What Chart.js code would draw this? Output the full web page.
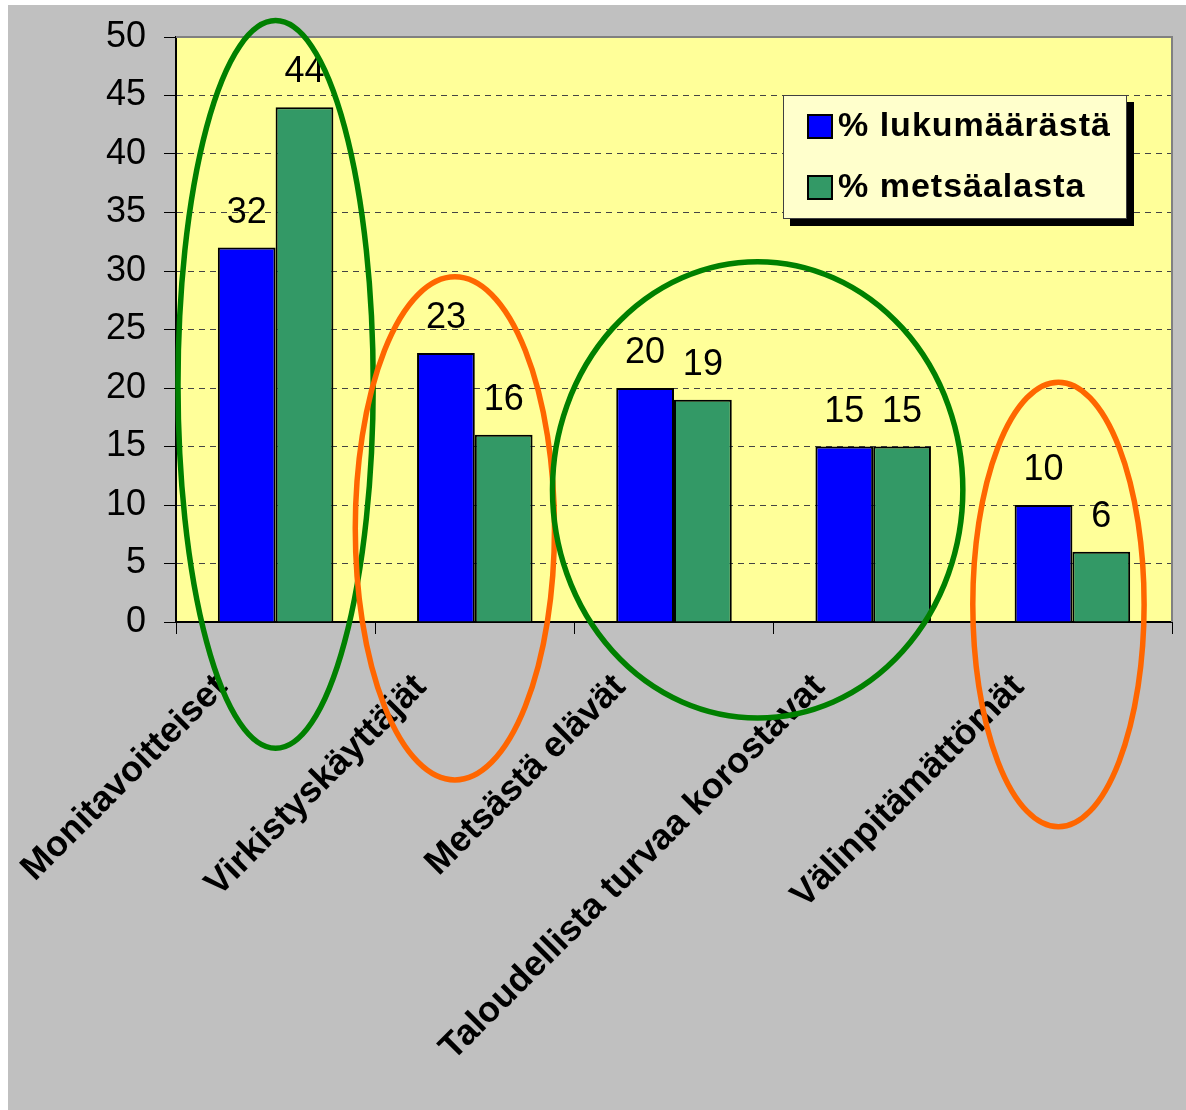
<!DOCTYPE html>
<html>
<head>
<meta charset="utf-8">
<script src="https://cdn.jsdelivr.net/npm/chart.js@4/dist/chart.umd.min.js"></script>
<style>
  html, body { margin: 0; padding: 0; background: #fff; }
  #wrap { position: absolute; left: 8px; top: 5px; width: 1178px; height: 1105px; background: #c0c0c0; }
</style>
</head>
<body>
<div id="wrap"><canvas id="chart"></canvas></div>
<script>
// Data
const categories = ['Monitavoitteiset', 'Virkistyskäyttäjät', 'Metsästä elävät', 'Taloudellista turvaa korostavat', 'Välinpitämättömät'];
const seriesNames = ['% lukumäärästä', '% metsäalasta'];
const shareOfCount = [32, 23, 20, 15, 10];
const shareOfArea = [44, 16, 19, 15, 6];
const yTicks = [0, 5, 10, 15, 20, 25, 30, 35, 40, 45, 50];

const FONT = "'Liberation Sans', Arial, sans-serif";

// Highlight ellipses, in axis units (category index / value)
const highlights = [
    { cx: 0.0, cy: 20.3, rx: 0.49, ry: 31.1, color: '#008000' },
    { cx: 0.9, cy: 8.0, rx: 0.50, ry: 21.5, color: '#ff6600' },
    { cx: 2.42, cy: 11.3, rx: 1.03, ry: 19.5, color: '#008000' },
    { cx: 3.93, cy: 1.5, rx: 0.43, ry: 19.0, color: '#ff6600' }
];

const plotBackground = {
    id: 'plotBackground',
    beforeDraw(chart) {
        const { ctx, chartArea: a } = chart;
        ctx.save();
        ctx.fillStyle = '#ffff99';
        ctx.fillRect(a.left, a.top, a.right - a.left, a.bottom - a.top);
        ctx.restore();
    },
    beforeDatasetsDraw(chart) {
        const { ctx, chartArea: a } = chart;
        ctx.save();
        ctx.strokeStyle = '#808080';
        ctx.lineWidth = 2;
        ctx.beginPath();
        ctx.moveTo(a.left, a.top);
        ctx.lineTo(a.right, a.top);
        ctx.lineTo(a.right, a.bottom);
        ctx.stroke();
        ctx.restore();
    }
};

const valueLabels = {
    id: 'valueLabels',
    afterDatasetsDraw(chart) {
        const ctx = chart.ctx;
        ctx.save();
        ctx.font = '36px ' + FONT;
        ctx.fillStyle = '#000';
        ctx.textAlign = 'center';
        ctx.textBaseline = 'alphabetic';
        chart.data.datasets.forEach((ds, i) => {
            chart.getDatasetMeta(i).data.forEach((bar, j) => {
                ctx.fillText(String(ds.data[j]), bar.x, bar.y - 25);
            });
        });
        ctx.restore();
    }
};

const boxLegend = {
    id: 'boxLegend',
    afterDatasetsDraw(chart) {
        const { ctx, chartArea: a } = chart;
        const w = 344, h = 124;
        const left = a.right - 45 - w;
        const top = a.top + 58;
        ctx.save();
        ctx.fillStyle = '#000';
        ctx.fillRect(left + 7, top + 7, w, h);
        ctx.fillStyle = '#ffffcc';
        ctx.fillRect(left, top, w, h);
        ctx.strokeStyle = '#404040';
        ctx.lineWidth = 1;
        ctx.strokeRect(left + 0.5, top + 0.5, w - 1, h - 1);
        ctx.font = 'bold 34px ' + FONT;
        if ('letterSpacing' in ctx) ctx.letterSpacing = '1px';
        ctx.textBaseline = 'middle';
        ctx.textAlign = 'left';
        chart.data.datasets.forEach((ds, i) => {
            const cy = top + 31 + i * 61;
            ctx.fillStyle = ds.backgroundColor;
            ctx.fillRect(left + 25, cy - 11, 24, 23);
            ctx.strokeStyle = '#000';
            ctx.lineWidth = 2;
            ctx.strokeRect(left + 25, cy - 11, 24, 23);
            ctx.fillStyle = '#000';
            ctx.fillText(ds.label, left + 55, cy + 1);
        });
        ctx.restore();
    }
};

const ellipses = {
    id: 'ellipses',
    afterDraw(chart) {
        const { ctx, scales: { x, y } } = chart;
        const step = x.getPixelForValue(1) - x.getPixelForValue(0);
        const unit = y.getPixelForValue(0) - y.getPixelForValue(1);
        ctx.save();
        ctx.lineWidth = 5.5;
        highlights.forEach(e => {
            const px = x.getPixelForValue(0) + e.cx * step;
            const py = y.getPixelForValue(e.cy);
            ctx.strokeStyle = e.color;
            ctx.beginPath();
            ctx.ellipse(px, py, e.rx * step, e.ry * unit, 0, 0, Math.PI * 2);
            ctx.stroke();
        });
        ctx.restore();
    }
};

const ctx = document.getElementById('chart').getContext('2d');
new Chart(ctx, {
    type: 'bar',
    data: {
        labels: categories,
        datasets: [{
            label: seriesNames[0],
            data: shareOfCount,
            backgroundColor: '#0000ff',
            borderColor: '#000',
            borderWidth: 2,
            categoryPercentage: 0.58,
            barPercentage: 1.0
        }, {
            label: seriesNames[1],
            data: shareOfArea,
            backgroundColor: '#339966',
            borderColor: '#000',
            borderWidth: 2,
            categoryPercentage: 0.58,
            barPercentage: 1.0
        }]
    },
    options: {
        responsive: true,
        maintainAspectRatio: false,
        animation: false,
        devicePixelRatio: 1,
        layout: { padding: { top: 32, right: 14, bottom: 0, left: 0 } },
        plugins: {
            legend: { display: false },
            tooltip: { enabled: false }
        },
        scales: {
            x: {
                afterFit(scale) { scale.height = 488; },
                grid: {
                    drawOnChartArea: false,
                    drawTicks: true,
                    tickLength: 12,
                    tickColor: '#000',
                    tickWidth: 1
                },
                border: { color: '#000', width: 2 },
                ticks: {
                    autoSkip: false,
                    minRotation: 45,
                    maxRotation: 45,
                    labelOffset: -54,
                    padding: 32,
                    color: '#000',
                    font: { family: FONT, size: 36, weight: 'bold' }
                }
            },
            y: {
                min: 0,
                max: 50,
                afterFit(scale) { scale.width = 168; },
                afterBuildTicks(scale) { scale.ticks = yTicks.map(v => ({ value: v })); },
                grid: {
                    color: c => (c.tick && (c.tick.value === 0 || c.tick.value === 50)) ? 'rgba(0,0,0,0)' : '#444',
                    lineWidth: 1,
                    tickLength: 12,
                    tickColor: '#000',
                    tickWidth: 1
                },
                border: { color: '#000', width: 2, dash: [6, 5] },
                ticks: {
                    padding: 18,
                    color: '#000',
                    font: { family: FONT, size: 36, lineHeight: 0.7 }
                }
            }
        }
    },
    plugins: [plotBackground, valueLabels, boxLegend, ellipses]
});
</script>
</body>
</html>
